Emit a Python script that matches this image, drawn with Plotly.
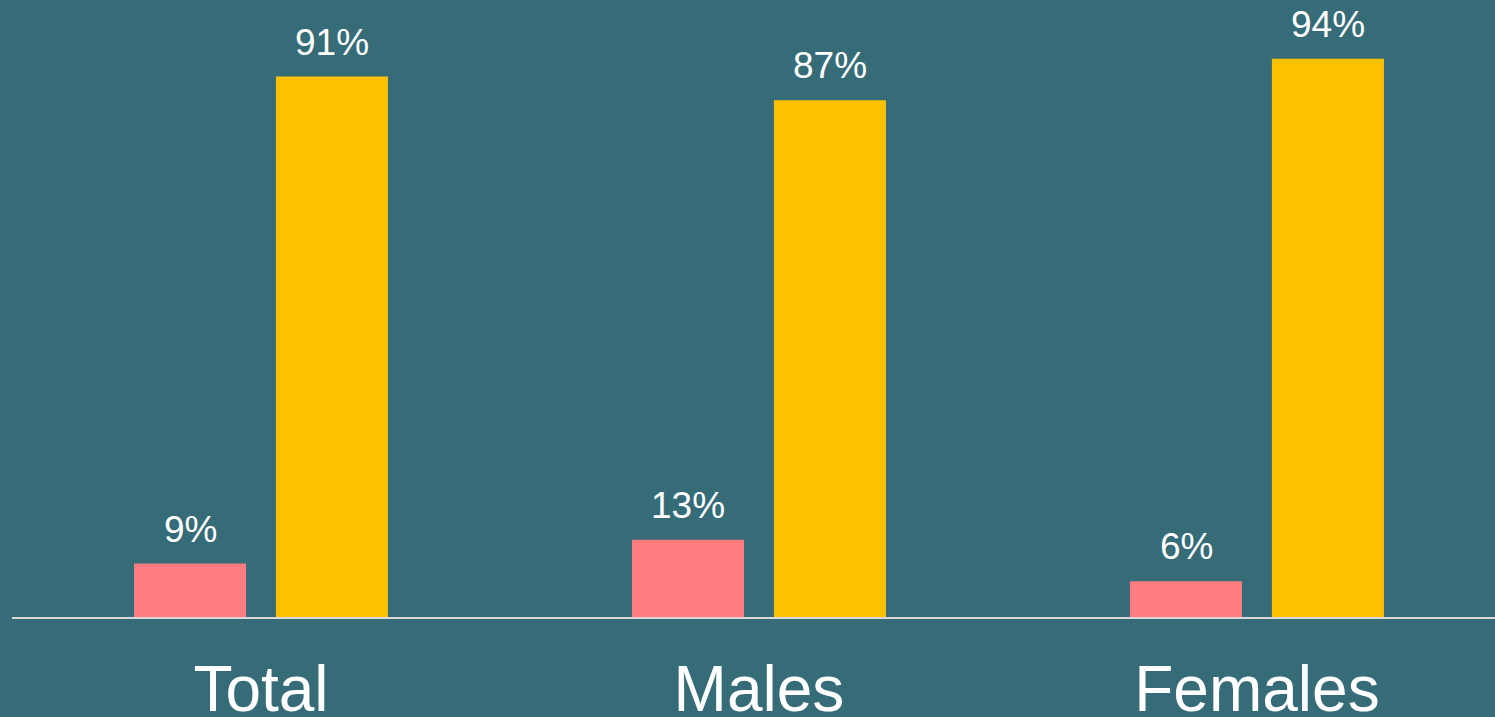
import plotly.graph_objects as go

categories = ["Total", "Males", "Females"]
series_a = [9, 13, 6]      # pink
series_b = [91, 87, 94]    # yellow
labels_a = ["9%", "13%", "6%"]
labels_b = ["91%", "87%", "94%"]

BG = "#366b78"
PINK = "#ff7c80"
YELLOW = "#ffc000"
FONT = "Liberation Sans, Arial, sans-serif"

BAR_W = 0.225
OFF_A = -0.255
OFF_B = 0.030

fig = go.Figure()
fig.add_trace(go.Bar(
    x=categories, y=series_a,
    marker=dict(color=PINK, line=dict(width=0)),
    width=BAR_W, offset=OFF_A, cliponaxis=False, hoverinfo="skip",
))
fig.add_trace(go.Bar(
    x=categories, y=series_b,
    marker=dict(color=YELLOW, line=dict(width=0)),
    width=BAR_W, offset=OFF_B, cliponaxis=False, hoverinfo="skip",
))

annotations = []
for i in range(len(categories)):
    for vals, labs, off in ((series_a, labels_a, OFF_A), (series_b, labels_b, OFF_B)):
        annotations.append(dict(
            x=i + off + BAR_W / 2, y=vals[i], xref="x", yref="y",
            text=labs[i], showarrow=False, yanchor="bottom", yshift=12,
            font=dict(size=37, color="white", family=FONT),
        ))

fig.update_layout(
    width=1495, height=717,
    margin=dict(l=12, r=0, t=0, b=100, autoexpand=False),
    paper_bgcolor=BG, plot_bgcolor=BG,
    showlegend=False,
    font=dict(family=FONT, color="white"),
    xaxis=dict(
        type="category", range=[-0.5, 2.478], automargin=False,
        showline=True, linecolor="#d9d9d9", linewidth=2,
        showgrid=False, zeroline=False, ticks="",
        tickfont=dict(size=64, color="white", family=FONT),
        ticklabelstandoff=15,
    ),
    yaxis=dict(
        range=[0, 103.9], visible=False, showgrid=False, zeroline=False,
        automargin=False,
    ),
    annotations=annotations,
)

fig.write_html(
    "out.html",
    config={"displayModeBar": False},
    post_script="document.body.style.margin='0';document.body.style.overflow='hidden';",
)
